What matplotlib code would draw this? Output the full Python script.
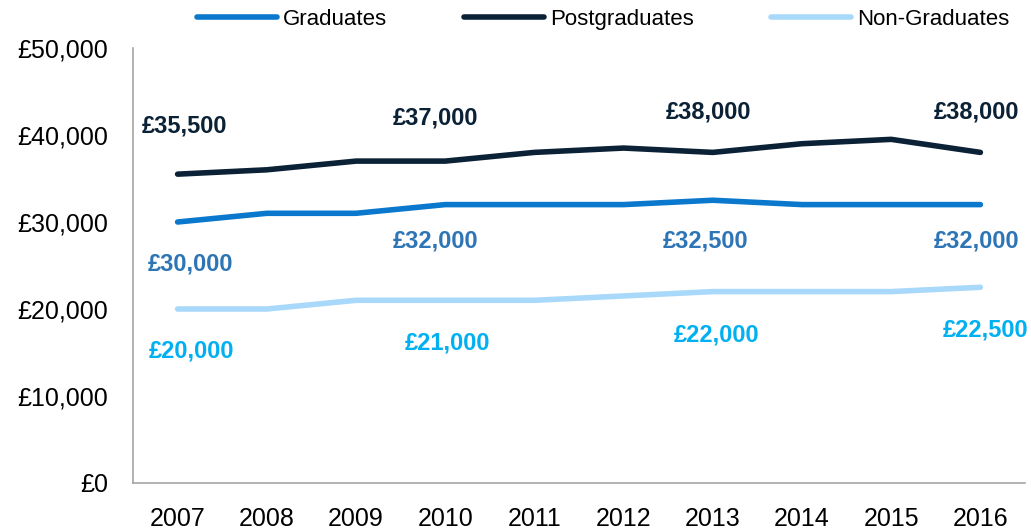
import matplotlib.pyplot as plt

plt.rcParams['font.family'] = ['Liberation Sans', 'DejaVu Sans']

years = ['2007', '2008', '2009', '2010', '2011', '2012', '2013', '2014', '2015', '2016']
graduates = [30000, 31000, 31000, 32000, 32000, 32000, 32500, 32000, 32000, 32000]
postgraduates = [35500, 36000, 37000, 37000, 38000, 38500, 38000, 39000, 39500, 38000]
non_graduates = [20000, 20000, 21000, 21000, 21000, 21500, 22000, 22000, 22000, 22500]
label_idx = [0, 3, 6, 9]

fig = plt.figure(figsize=(10.31, 5.31), dpi=100)
ax = fig.add_axes([133 / 1031, 48 / 531, 892 / 1031, 435 / 531])

x = range(len(years))
ax.plot(x, graduates, color='#0a78cc', lw=4, label='Graduates', solid_capstyle='round')
ax.plot(x, postgraduates, color='#0b2136', lw=4, label='Postgraduates', solid_capstyle='round')
ax.plot(x, non_graduates, color='#a9d9fa', lw=4, label='Non-Graduates', solid_capstyle='round')

# data labels
pg_off = [(5, 35), (-7, 31), (-3, 29), (-3, 29)]
gr_off = [(9, -30), (-7, -26), (-5, -29), (-3, -26)]
ng_off = [(10, -30), (2, -31), (3, -31), (4, -31)]
lab_kw = dict(textcoords='offset points', ha='center', va='center', fontsize=17, fontweight='bold')
for k, i in enumerate(label_idx):
    ax.annotate('£{:,}'.format(postgraduates[i]), (i, postgraduates[i]), xytext=pg_off[k],
                color='#0b2136', **lab_kw)
    ax.annotate('£{:,}'.format(graduates[i]), (i, graduates[i]), xytext=gr_off[k],
                color='#2e75b6', **lab_kw)
    ax.annotate('£{:,}'.format(non_graduates[i]), (i, non_graduates[i]), xytext=ng_off[k],
                color='#00b0f0', **lab_kw)

ax.set_xlim(-0.5, len(years) - 0.5)
ax.set_ylim(0, 50000)
ax.set_xticks(list(x))
ax.set_xticklabels(years)
ax.set_yticks(range(0, 50001, 10000))
ax.set_yticklabels(['£{:,}'.format(v) for v in range(0, 50001, 10000)])
ax.tick_params(length=0, labelsize=18)
ax.tick_params(axis='x', pad=17)
ax.tick_params(axis='y', pad=18)
for s in ['top', 'right']:
    ax.spines[s].set_visible(False)
for s in ['left', 'bottom']:
    ax.spines[s].set_color('#a6a6a6')
    ax.spines[s].set_linewidth(1.2)

ax.legend(loc='lower center', bbox_to_anchor=(0.527, 1.0), ncol=3, frameon=False,
          fontsize=16, handlelength=3.6, handletextpad=0.25, columnspacing=3.5,
          borderaxespad=0.4)

fig.savefig('out.png', dpi=100)
